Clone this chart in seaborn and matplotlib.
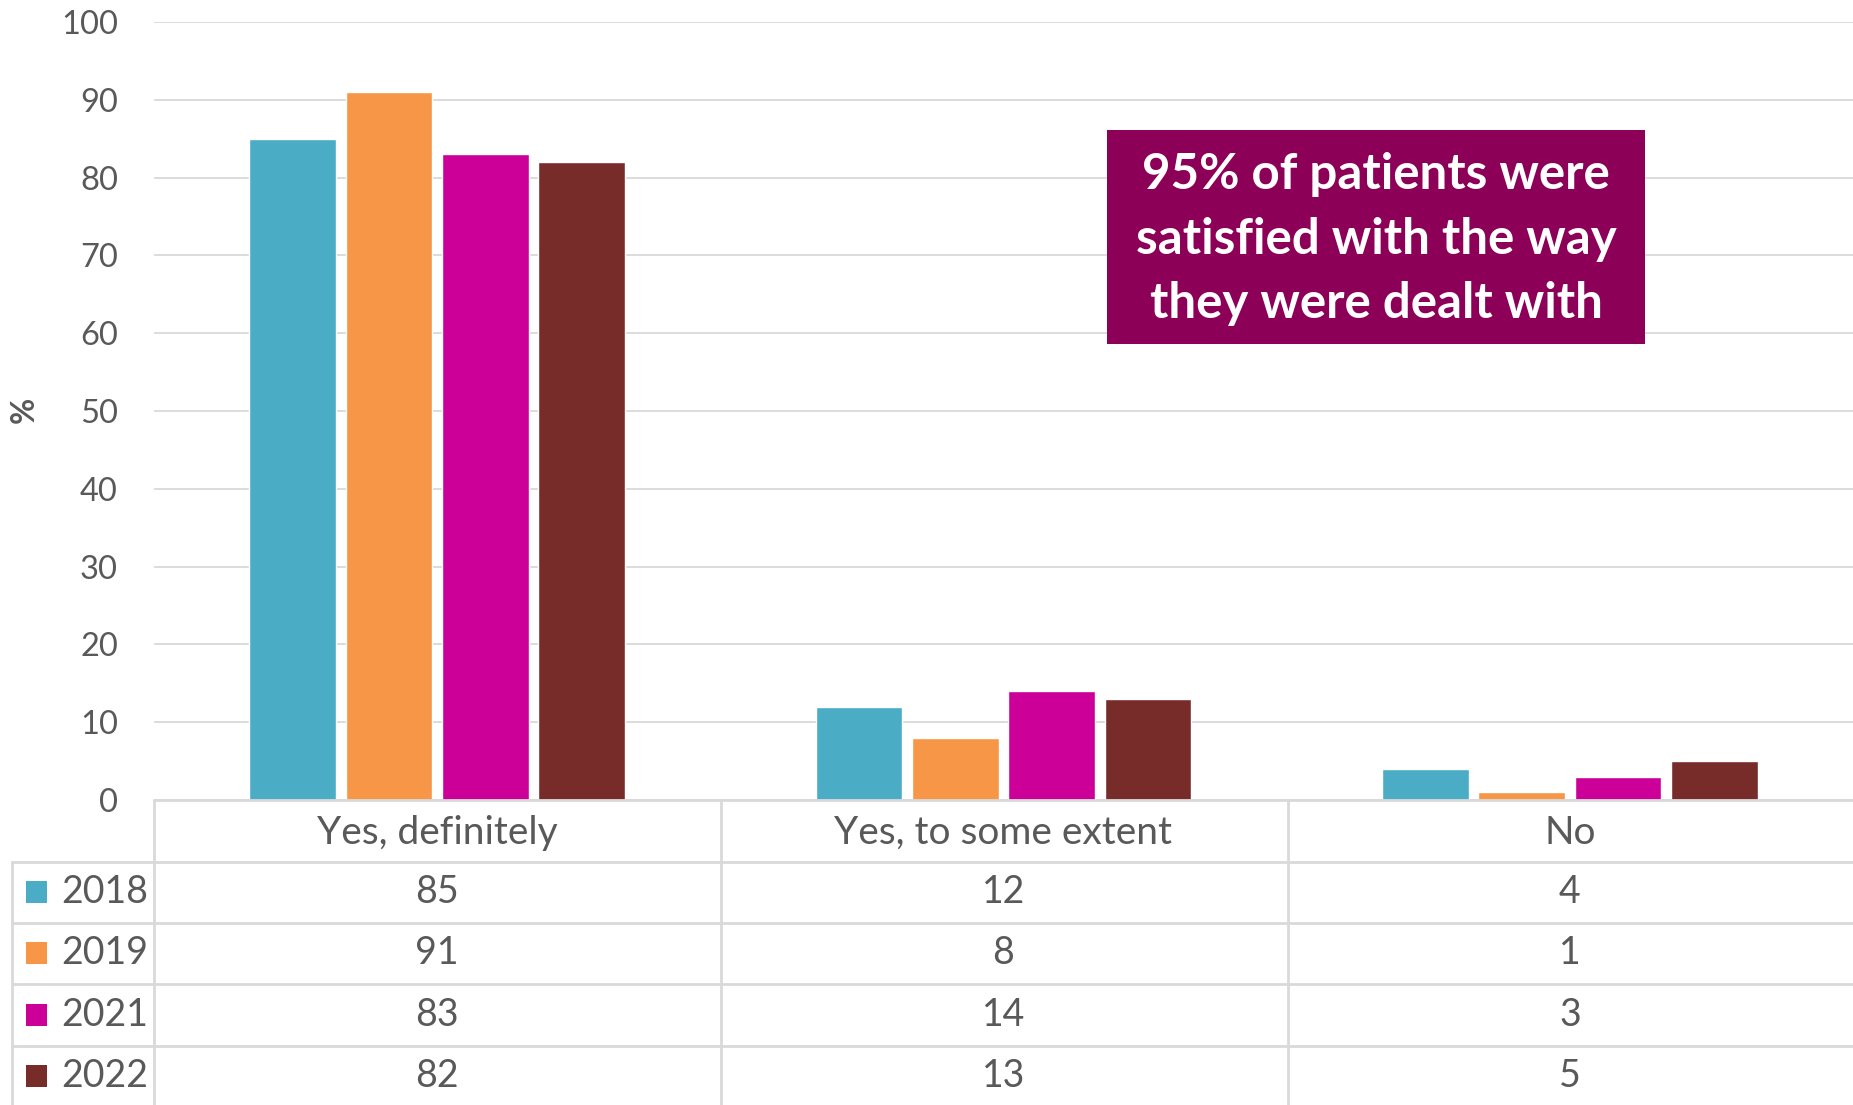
import matplotlib
matplotlib.use("Agg")
import matplotlib.pyplot as plt
import matplotlib.transforms as mtransforms
from matplotlib.lines import Line2D
from matplotlib.patches import Rectangle
import pandas as pd
import seaborn as sns

# Survey results (%)
categories = ["Yes, definitely", "Yes, to some extent", "No"]
years = ["2018", "2019", "2021", "2022"]
values_2018 = [85, 12, 4]
values_2019 = [91, 8, 1]
values_2021 = [83, 14, 3]
values_2022 = [82, 13, 5]
year_colors = ["#4BACC6", "#F79646", "#CC0099", "#772C2A"]
y_ticks = [0, 10, 20, 30, 40, 50, 60, 70, 80, 90, 100]
callout = "95% of patients were\nsatisfied with the way\nthey were dealt with"

series = {"2018": values_2018, "2019": values_2019,
          "2021": values_2021, "2022": values_2022}
df = pd.DataFrame(
    [(cat, yr, vals[i]) for yr, vals in series.items() for i, cat in enumerate(categories)],
    columns=["category", "year", "value"],
)

sns.set_theme(style="white")
plt.rcParams["font.family"] = ["Lato", "DejaVu Sans"]

W, H = 1853, 1105
fig = plt.figure(figsize=(W / 100, H / 100), dpi=100)


def fx(px):
    return px / W


def fy(py):
    return 1 - py / H


ax = fig.add_axes([fx(154), fy(800), 1 - fx(154), fy(22) - fy(800)])

sns.barplot(data=df, x="category", y="value", hue="year", order=categories,
            hue_order=years, palette=year_colors, saturation=1,
            width=0.68, gap=0.1, legend=False, ax=ax, zorder=3)

ax.set_xlim(-0.5, len(categories) - 0.5)
ax.set_ylim(0, 100)
ax.set_yticks(y_ticks)
ax.yaxis.grid(True, color="#D9D9D9", linewidth=1.3, zorder=0)
ax.set_axisbelow(True)
for s in ax.spines.values():
    s.set_visible(False)
ax.tick_params(axis="y", length=0, pad=26, labelsize=23.5, labelcolor="#595959")
ax.tick_params(axis="x", length=0, labelbottom=False)
ax.set_xlabel("")
ax.set_ylabel("")

fig.text(fx(24), fy(410), "%", rotation=90, ha="center", va="center",
         fontsize=23, fontweight="bold", color="#595959")

# Data table beneath the axis
grid_c = "#D9D9D9"
lw = 2.0
row_edges = [800, 862, 923, 984, 1046]
for i, yy in enumerate(row_edges):
    x0 = 154 if i == 0 else 12
    fig.add_artist(Line2D([fx(x0), 1], [fy(yy), fy(yy)], color=grid_c, lw=lw))
fig.add_artist(Line2D([fx(12), fx(12)], [fy(862), 0], color=grid_c, lw=lw))
for xx in [154, 721, 1288]:
    fig.add_artist(Line2D([fx(xx), fx(xx)], [fy(800), 0], color=grid_c, lw=lw))

trans = mtransforms.blended_transform_factory(ax.transData, fig.transFigure)
text_c = "#595959"
for i, cat in enumerate(categories):
    fig.text(i, fy(833), cat, transform=trans, ha="center", va="center",
             fontsize=28, color=text_c)

row_centers = [892, 953, 1015, 1076]
for r, (yr, col) in enumerate(zip(years, year_colors)):
    yc = row_centers[r]
    fig.add_artist(Rectangle((fx(26), fy(yc + 11)), fx(47) - fx(26), fy(yc - 11) - fy(yc + 11),
                             transform=fig.transFigure, facecolor=col, edgecolor="none"))
    fig.text(fx(61), fy(yc), yr, ha="left", va="center", fontsize=27, color=text_c)
    for i, v in enumerate(series[yr]):
        fig.text(i, fy(yc), str(v), transform=trans, ha="center", va="center",
                 fontsize=27, color=text_c)

# Callout box
bx0, bx1, by0, by1 = 1107, 1645, 130, 344
fig.add_artist(Rectangle((fx(bx0), fy(by1)), fx(bx1) - fx(bx0), fy(by0) - fy(by1),
                         transform=fig.transFigure, facecolor="#8C0058", edgecolor="none"))
fig.text(fx((bx0 + bx1) / 2), fy((by0 + by1) / 2 + 2), callout, ha="center", va="center",
         fontsize=35.5, fontweight="bold", color="white", linespacing=1.52)

fig.savefig("out.png", dpi=100)
